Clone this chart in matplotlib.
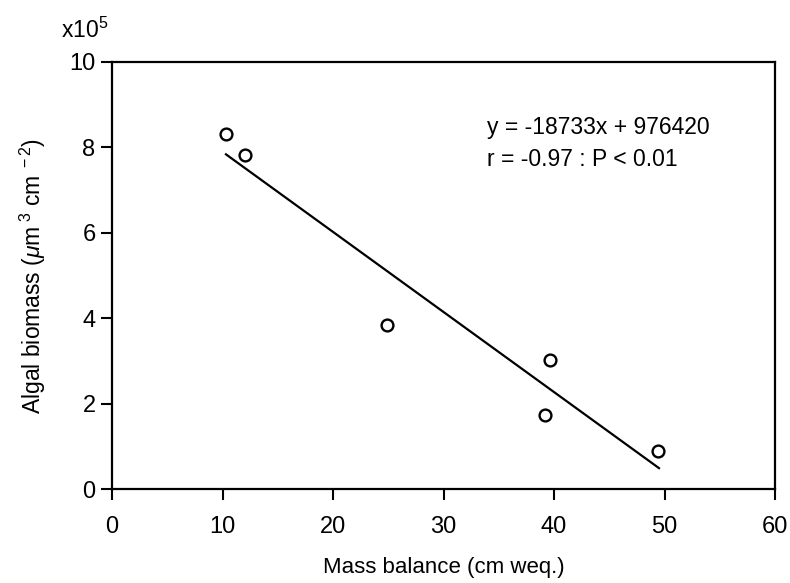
import numpy as np
import matplotlib
matplotlib.use('Agg')
import matplotlib.pyplot as plt

plt.rcParams['font.family'] = ['Liberation Sans', 'DejaVu Sans']
plt.rcParams['mathtext.fontset'] = 'custom'
plt.rcParams['mathtext.rm'] = 'Liberation Sans'
plt.rcParams['mathtext.it'] = 'Liberation Sans:italic'

# data (biomass in units of 10^5 um^3 cm^-2)
mass_balance = [10.3, 12.0, 24.9, 39.2, 39.6, 49.4]
biomass = [8.31, 7.82, 3.84, 1.73, 3.02, 0.89]

slope = -18733
intercept = 976420
fit_x = np.array([10.3, 49.5])
fit_y = (slope * fit_x + intercept) / 1e5

fig = plt.figure(figsize=(7.9, 5.83), dpi=100)
ax = fig.add_axes([0.142, 0.161, 0.839, 0.733])

ax.plot(fit_x, fit_y, color='black', linewidth=1.6)
ax.plot(mass_balance, biomass, 'o', markersize=8.5, markerfacecolor='white',
        markeredgecolor='black', markeredgewidth=1.7, linestyle='none')

ax.set_xlim(0, 60)
ax.set_ylim(0, 10)
ax.set_xticks(range(0, 61, 10))
ax.set_yticks(range(0, 11, 2))
ax.tick_params(direction='out', length=8, width=1.5, labelsize=17)
ax.tick_params(axis='x', pad=11)
ax.tick_params(axis='y', pad=4)
for s in ax.spines.values():
    s.set_linewidth(1.6)

ax.set_xlabel('Mass balance (cm weq.)', fontsize=16, labelpad=14)
ax.set_ylabel(r'Algal biomass ($\mathit{\mu}$m$^{\ 3}$ cm$^{\ -2}$)', fontsize=16.5, labelpad=15)

ax.text(0.566, 0.874, 'y = -18733x + 976420\nr = -0.97 : P < 0.01',
        transform=ax.transAxes, fontsize=16.5, va='top', ha='left', linespacing=1.5)

fig.text(0.077, 0.935, r'x10$^5$', fontsize=16.5, ha='left', va='baseline')

fig.savefig('out.png', dpi=100)
